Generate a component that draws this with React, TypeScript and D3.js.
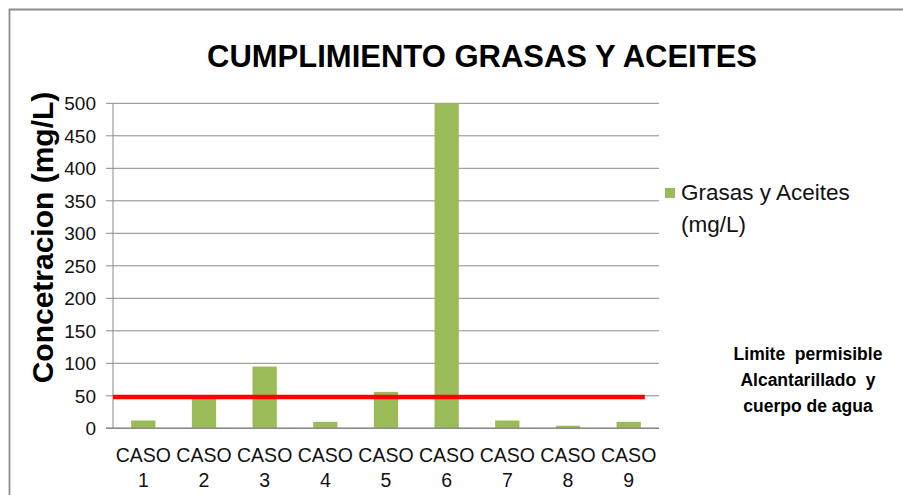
import React, { useEffect, useRef } from "react";
import * as d3 from "d3";

const categories = ["1", "2", "3", "4", "5", "6", "7", "8", "9"];
const grasasValues = [12, 45, 95, 10, 56, 500, 12, 4, 10];
const limitValue = 48;
const yTicks = [0, 50, 100, 150, 200, 250, 300, 350, 400, 450, 500];
const legendLines = ["Grasas y Aceites", "(mg/L)"];
const noteLines = ["Limite  permisible", "Alcantarillado  y", "cuerpo de agua"];

function App() {
  const svgRef = useRef<SVGSVGElement>(null);
  const width = 903,
    height = 495;
  const margin = { left: 113, right: 244, top: 103.3, bottom: 66.7 };
  const innerW = width - margin.left - margin.right;
  const innerH = height - margin.top - margin.bottom;

  useEffect(() => {
    const svg = d3.select(svgRef.current);
    svg.selectAll("*").remove();
    const font = "'Liberation Sans', Arial, sans-serif";

    // outer frame (top and left edges are visible)
    svg
      .append("path")
      .attr("d", "M9.5,495 L9.5,9.5 L903,9.5")
      .attr("fill", "none")
      .attr("stroke", "#8c8c8c")
      .attr("stroke-width", 1.8);

    svg
      .append("text")
      .attr("x", 207)
      .attr("y", 67)
      .attr("font-family", font)
      .attr("font-weight", "bold")
      .attr("font-size", 31)
      .attr("textLength", 550)
      .attr("lengthAdjust", "spacingAndGlyphs")
      .text("CUMPLIMIENTO GRASAS Y ACEITES");

    const g = svg
      .append("g")
      .attr("transform", "translate(" + margin.left + "," + margin.top + ")");

    const x = d3
      .scaleBand()
      .domain(categories)
      .range([0, innerW])
      .paddingInner(0.6)
      .paddingOuter(0.3);
    const y = d3.scaleLinear().domain([0, 500]).range([innerH, 0]);

    // gridlines
    g.selectAll(".grid")
      .data(yTicks)
      .join("line")
      .attr("x1", -7)
      .attr("x2", innerW)
      .attr("y1", (d) => y(d))
      .attr("y2", (d) => y(d))
      .attr("stroke", "#8a8a8a")
      .attr("stroke-width", 1);

    // y axis line
    g.append("line")
      .attr("x1", 0)
      .attr("x2", 0)
      .attr("y1", 0)
      .attr("y2", innerH)
      .attr("stroke", "#8a8a8a")
      .attr("stroke-width", 1);

    g.selectAll(".ytick")
      .data(yTicks)
      .join("text")
      .attr("x", -17)
      .attr("y", (d) => y(d) + 7)
      .attr("text-anchor", "end")
      .attr("font-family", font)
      .attr("font-size", 19)
      .attr("fill", "#111")
      .text((d) => d);

    // bars
    g.selectAll(".bar")
      .data(grasasValues)
      .join("rect")
      .attr("x", (d, i) => x(categories[i]) as number)
      .attr("y", (d) => y(d))
      .attr("width", x.bandwidth())
      .attr("height", (d) => innerH - y(d))
      .attr("fill", "#9bbb59");

    // baseline
    g.append("line")
      .attr("x1", -7)
      .attr("x2", innerW)
      .attr("y1", innerH)
      .attr("y2", innerH)
      .attr("stroke", "#8a8a8a")
      .attr("stroke-width", 1.5);

    // x labels
    const xl = g
      .selectAll(".xlab")
      .data(categories)
      .join("text")
      .attr("text-anchor", "middle")
      .attr("font-family", font)
      .attr("font-size", 19.5)
      .attr("fill", "#111");
    xl.append("tspan")
      .attr("x", (d) => (x(d) as number) + x.bandwidth() / 2)
      .attr("y", innerH + 34)
      .text("CASO");
    xl.append("tspan")
      .attr("x", (d) => (x(d) as number) + x.bandwidth() / 2)
      .attr("y", innerH + 59)
      .text((d) => d);

    // limit line
    const last = categories[categories.length - 1];
    g.append("line")
      .attr("x1", 0)
      .attr("x2", (x(last) as number) + x.bandwidth() + 4)
      .attr("y1", y(limitValue))
      .attr("y2", y(limitValue))
      .attr("stroke", "#ff0000")
      .attr("stroke-width", 4.5);

    // y axis title
    svg
      .append("text")
      .attr("transform", "translate(53," + 237.5 + ") rotate(-90)")
      .attr("text-anchor", "middle")
      .attr("font-family", font)
      .attr("font-weight", "bold")
      .attr("font-size", 30)
      .attr("fill", "#000")
      .text("Concetracion (mg/L)");

    // legend
    svg
      .append("rect")
      .attr("x", 665)
      .attr("y", 188)
      .attr("width", 10)
      .attr("height", 10)
      .attr("fill", "#9bbb59");
    svg
      .selectAll(".leg")
      .data(legendLines)
      .join("text")
      .attr("x", 681)
      .attr("y", (d, i) => 200 + i * 32)
      .attr("font-family", font)
      .attr("font-size", 22.5)
      .attr("fill", "#111")
      .text((d) => d);

    // note
    svg
      .selectAll(".note")
      .data(noteLines)
      .join("text")
      .attr("x", 808)
      .attr("y", (d, i) => 360 + i * 26)
      .attr("text-anchor", "middle")
      .attr("font-family", font)
      .attr("font-weight", "bold")
      .attr("font-size", 17.5)
      .attr("fill", "#000")
      .attr("xml:space", "preserve")
      .style("white-space", "pre")
      .text((d) => d);
  }, []);

  return (
    <div style={{ position: "absolute", left: 0, top: 0 }}>
      <svg ref={svgRef} width={width} height={height} style={{ display: "block", background: "#fff" }}></svg>
    </div>
  );
}

export default App;
